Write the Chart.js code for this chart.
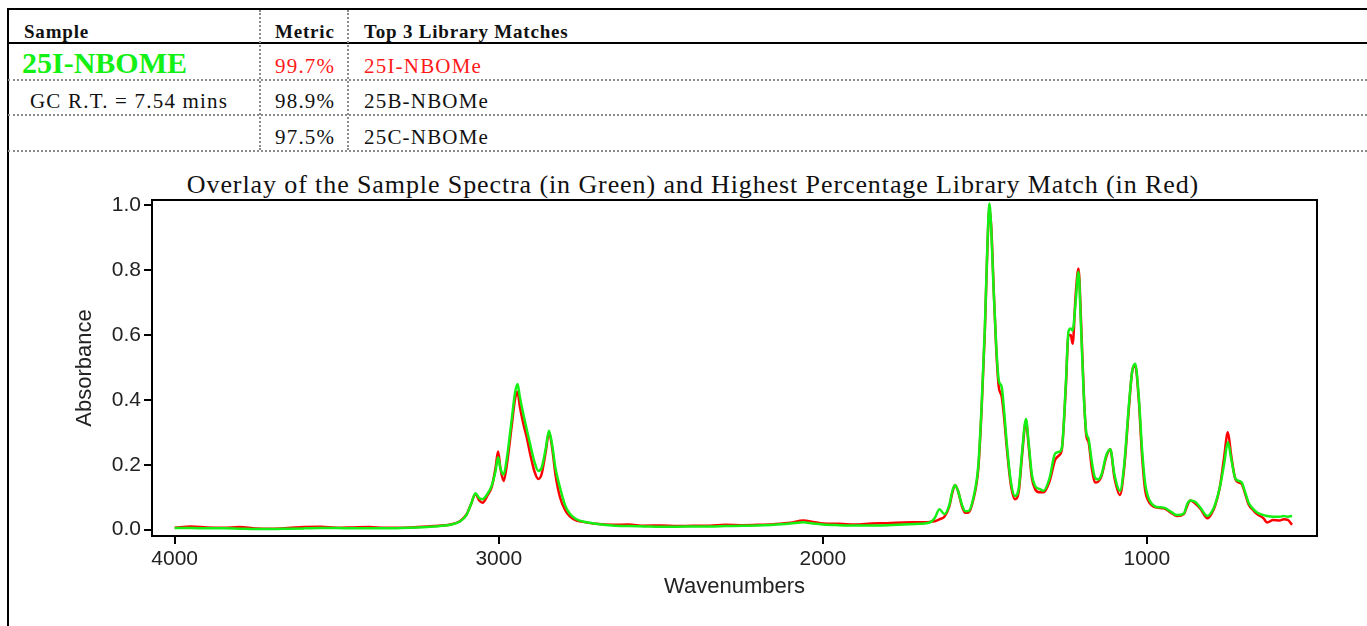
<!DOCTYPE html>
<html>
<head>
<meta charset="utf-8">
<script src="https://cdn.jsdelivr.net/npm/chart.js@4/dist/chart.umd.min.js"></script>
<style>
  html,body{margin:0;padding:0;background:#fff;}
  body{width:1367px;height:626px;position:relative;overflow:hidden;font-family:"Liberation Serif","DejaVu Serif",serif;}
  .hl{position:absolute;left:8px;right:0;height:0;}
  .thick{border-top:2px solid #000;}
  .dot{border-top:2px dotted #8c8c8c;}
  .vdot{position:absolute;top:10px;height:140px;width:0;border-left:2px dotted #8c8c8c;}
  .t{position:absolute;white-space:nowrap;line-height:1;color:#111;font-size:21px;letter-spacing:1.2px;}
  .b{font-weight:bold;font-size:19px;letter-spacing:0.8px;}
  #chartTitle{position:absolute;top:170px;left:0;width:1386px;text-align:center;font-size:26px;letter-spacing:0.9px;color:#111;white-space:nowrap;}
  #wrap{position:absolute;left:0;top:152px;width:1367px;height:474px;}
</style>
</head>
<body>
<div style="position:absolute;left:7px;top:8px;width:2px;height:618px;background:#000;"></div>
<div class="hl thick" style="top:8px;"></div>
<div class="hl thick" style="top:42px;"></div>
<div class="hl dot" style="top:79px;"></div>
<div class="hl dot" style="top:114px;"></div>
<div class="hl dot" style="top:150px;"></div>
<div class="vdot" style="left:259px;"></div>
<div class="vdot" style="left:347px;"></div>

<div class="t b" style="left:24px;top:22px;">Sample</div>
<div class="t b" style="left:275px;top:22px;">Metric</div>
<div class="t b" style="left:364px;top:22px;">Top 3 Library Matches</div>

<div class="t" style="left:22px;top:48px;font-size:30px;font-weight:bold;letter-spacing:0;color:#14f014;">25I-NBOME</div>
<div class="t" style="left:275px;top:56px;color:#ff1a1a;">99.7%</div>
<div class="t" style="left:364px;top:56px;color:#ff1a1a;">25I-NBOMe</div>

<div class="t" style="left:30px;top:91px;">GC R.T. = 7.54 mins</div>
<div class="t" style="left:275px;top:91px;">98.9%</div>
<div class="t" style="left:364px;top:91px;">25B-NBOMe</div>

<div class="t" style="left:275px;top:127px;">97.5%</div>
<div class="t" style="left:364px;top:127px;">25C-NBOMe</div>

<div id="chartTitle">Overlay of the Sample Spectra (in Green) and Highest Percentage Library Match (in Red)</div>

<div id="wrap"><canvas id="c"></canvas></div>

<script>
const wavenumbers = [4000,3950,3900,3850,3800,3750,3700,3650,3600,3550,3500,3450,3400,3350,3300,3250,3200,3150,3120,3100,3085,3072,3060,3050,3035,3022,3010,3002,2995,2985,2975,2960,2950,2942,2935,2925,2915,2900,2890,2878,2868,2855,2845,2835,2825,2811,2795,2780,2760,2740,2700,2650,2600,2550,2500,2450,2400,2350,2300,2250,2200,2150,2100,2060,2030,2000,1950,1900,1850,1800,1750,1700,1670,1655,1640,1625,1610,1600,1592,1583,1570,1560,1550,1535,1520,1510,1500,1492,1486,1480,1473,1465,1457,1448,1440,1433,1420,1407,1395,1385,1373,1365,1355,1345,1330,1319,1300,1283,1270,1262,1250,1242,1235,1229,1220,1211,1203,1195,1187,1180,1170,1160,1150,1140,1125,1113,1100,1083,1070,1055,1045,1036,1025,1015,1005,996,985,970,948,925,907,886,875,866,850,835,813,800,789,775,762,750,740,727,715,707,695,686,670,660,640,629,610,590,578,565,552];

const sampleAbs = [0.005,0.005,0.004,0.004,0.003,0.002,0.002,0.003,0.004,0.005,0.005,0.004,0.004,0.004,0.005,0.007,0.010,0.015,0.025,0.045,0.080,0.112,0.097,0.094,0.110,0.135,0.180,0.223,0.190,0.170,0.220,0.340,0.420,0.449,0.410,0.360,0.315,0.250,0.210,0.181,0.190,0.250,0.305,0.260,0.190,0.130,0.075,0.048,0.032,0.025,0.018,0.013,0.011,0.010,0.009,0.009,0.010,0.010,0.011,0.012,0.013,0.015,0.019,0.023,0.019,0.016,0.014,0.013,0.013,0.014,0.016,0.018,0.022,0.035,0.063,0.048,0.075,0.120,0.138,0.120,0.075,0.057,0.058,0.100,0.200,0.380,0.620,0.880,1.005,0.920,0.740,0.570,0.460,0.440,0.360,0.274,0.150,0.104,0.130,0.240,0.341,0.270,0.170,0.135,0.125,0.120,0.160,0.235,0.240,0.254,0.450,0.610,0.620,0.614,0.700,0.795,0.620,0.420,0.300,0.280,0.210,0.160,0.155,0.170,0.230,0.248,0.170,0.120,0.200,0.390,0.490,0.511,0.410,0.250,0.140,0.100,0.080,0.070,0.068,0.055,0.045,0.050,0.080,0.090,0.085,0.068,0.042,0.055,0.079,0.130,0.200,0.270,0.220,0.158,0.150,0.145,0.110,0.083,0.062,0.053,0.045,0.042,0.040,0.040,0.042,0.040,0.042];

const libraryAbs = [0.006,0.010,0.007,0.006,0.008,0.004,0.003,0.005,0.008,0.009,0.006,0.007,0.008,0.006,0.006,0.008,0.011,0.016,0.026,0.046,0.080,0.110,0.090,0.083,0.105,0.130,0.190,0.241,0.190,0.150,0.200,0.320,0.400,0.425,0.380,0.330,0.290,0.220,0.180,0.156,0.170,0.240,0.300,0.250,0.170,0.100,0.060,0.040,0.028,0.024,0.018,0.015,0.016,0.012,0.013,0.011,0.012,0.012,0.015,0.014,0.015,0.017,0.021,0.028,0.024,0.019,0.018,0.016,0.019,0.020,0.022,0.023,0.024,0.026,0.032,0.040,0.070,0.115,0.138,0.120,0.070,0.052,0.053,0.095,0.190,0.370,0.610,0.870,0.990,0.930,0.750,0.560,0.440,0.410,0.340,0.260,0.140,0.094,0.120,0.230,0.335,0.260,0.160,0.125,0.115,0.115,0.150,0.215,0.230,0.250,0.440,0.600,0.600,0.573,0.720,0.805,0.640,0.430,0.290,0.270,0.190,0.145,0.148,0.165,0.225,0.248,0.160,0.107,0.190,0.380,0.490,0.505,0.400,0.230,0.120,0.090,0.075,0.068,0.066,0.052,0.042,0.048,0.075,0.090,0.080,0.065,0.035,0.050,0.075,0.130,0.220,0.300,0.230,0.156,0.145,0.140,0.105,0.078,0.058,0.048,0.035,0.022,0.030,0.028,0.032,0.030,0.015];

const xTickValues = [4000,3000,2000,1000];
const yTickValues = [0.0,0.2,0.4,0.6,0.8,1.0];

const boxPlugin = {
  id:'box',
  afterDraw(chart){
    const a = chart.chartArea, ctx = chart.ctx;
    ctx.save();
    ctx.strokeStyle = '#000';
    ctx.lineWidth = 2;
    ctx.strokeRect(a.left, a.top, a.right - a.left, a.bottom - a.top);
    ctx.restore();
  }
};

new Chart(document.getElementById('c'), {
  type:'line',
  data:{
    datasets:[
      {label:'25I-NBOMe (library)', order:2, data: wavenumbers.map((w,i)=>({x:w,y:libraryAbs[i]})), borderColor:'#ff0000', borderWidth:2.5, pointRadius:0, cubicInterpolationMode:'monotone', fill:false},
      {label:'25I-NBOME (sample)', order:1, data: wavenumbers.map((w,i)=>({x:w,y:sampleAbs[i]})), borderColor:'#14f014', borderWidth:2.5, pointRadius:0, cubicInterpolationMode:'monotone', fill:false}
    ]
  },
  options:{
    responsive:true, maintainAspectRatio:false, animation:false,
    layout:{padding:{left:0,right:50,top:48,bottom:10}},
    plugins:{legend:{display:false}, tooltip:{enabled:false}},
    scales:{
      x:{
        type:'linear', reverse:true, min:475, max:4070,
        afterFit(s){ s.height = 80; },
        afterBuildTicks(s){ s.ticks = xTickValues.map(v=>({value:v})); },
        ticks:{color:'#222', font:{family:'"Liberation Sans", Arial, sans-serif', size:21}, padding:3, maxRotation:0, autoSkip:false, callback:v=>String(v)},
        grid:{display:true, drawOnChartArea:false, drawTicks:true, tickLength:8, color:'#000', lineWidth:2},
        border:{display:false},
        title:{display:true, text:'Wavenumbers', color:'#222', font:{family:'"Liberation Sans", Arial, sans-serif', size:22}, padding:{top:0,bottom:16}}
      },
      y:{
        type:'linear', min:-0.0195, max:1.016,
        afterFit(s){ s.width = 152; },
        afterBuildTicks(s){ s.ticks = yTickValues.map(v=>({value:v})); },
        ticks:{color:'#222', font:{family:'"Liberation Sans", Arial, sans-serif', size:21}, padding:3, autoSkip:false, callback:v=>Number(v).toFixed(1)},
        grid:{display:true, drawOnChartArea:false, drawTicks:true, tickLength:8, color:'#000', lineWidth:2},
        border:{display:false},
        title:{display:true, text:'Absorbance', color:'#222', font:{family:'"Liberation Sans", Arial, sans-serif', size:22}, padding:{top:72,bottom:0}}
      }
    }
  },
  plugins:[boxPlugin]
});
</script>
</body>
</html>
